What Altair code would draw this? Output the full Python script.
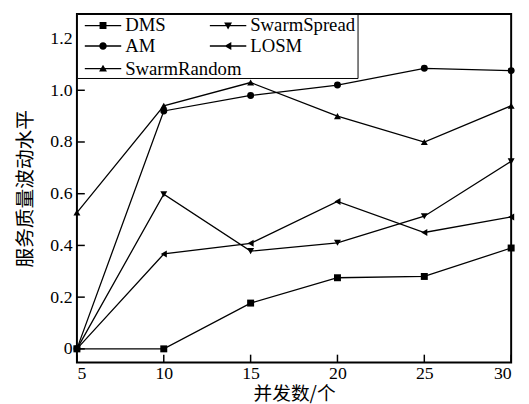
import altair as alt
import pandas as pd

# ---- data ----
x_vals = [5, 10, 15, 20, 25, 30]
dms = [0, 0, 0.177, 0.275, 0.28, 0.39]
am = [0, 0.92, 0.98, 1.02, 1.085, 1.076]
swarm_random = [0.527, 0.94, 1.03, 0.90, 0.80, 0.94]
swarm_spread = [0, 0.598, 0.378, 0.41, 0.513, 0.725]
losm = [0, 0.367, 0.408, 0.57, 0.45, 0.51]

series_order = ["DMS", "SwarmSpread", "AM", "LOSM", "SwarmRandom"]
legend_a_names = ["DMS", "SwarmSpread", "AM", "LOSM"]
legend_b_names = ["SwarmRandom"]
series_values = {
    "DMS": dms,
    "AM": am,
    "SwarmRandom": swarm_random,
    "SwarmSpread": swarm_spread,
    "LOSM": losm,
}
x_ticks = [5, 10, 15, 20, 25, 30]
y_ticks = [0, 0.2, 0.4, 0.6, 0.8, 1.0, 1.2]

# marker shapes (plot) and legend symbols (short line + marker, all filled, same winding)
plot_shapes = ["square", "triangle-down", "circle", "triangle-left", "triangle-up"]
LINE = "M-1.75,-0.33H16.75V0.33H-1.75Z"
legend_a_shapes = [
    LINE + "M5.75,-1.75H9.25V1.75H5.75Z",
    LINE + "M7.5,2L5.5,-1.5H9.5Z",
    LINE + "M5.6,0A1.9,1.9 0 1,1 9.4,0A1.9,1.9 0 1,1 5.6,0Z",
    LINE + "M5.65,0L9.15,-2V2Z",
]
legend_b_shapes = [LINE + "M7.5,-2L9.5,1.5H5.5Z"]

rows = []
for name in series_order:
    for xv, yv in zip(x_vals, series_values[name]):
        rows.append({"x": xv, "y": yv, "series": name})
df = pd.DataFrame(rows)

SERIF = "Liberation Serif, Times New Roman, serif"
CJK = "Noto Sans CJK SC"

x_scale = alt.Scale(domain=[5, 30], nice=False, zero=False)
y_scale = alt.Scale(domain=[-0.053, 1.295], nice=False, zero=False)

x_axis = alt.Axis(
    values=x_ticks, format="d", ticks=False, domain=False, grid=False,
    labelFont=SERIF, labelFontSize=18, labelColor="black", labelPadding=2,
    title="并发数/个", titleFont=CJK, titleFontSize=19, titleFontWeight="normal",
    titleColor="black", titleY=38, titleBaseline="alphabetic",
)
y_axis = alt.Axis(
    values=y_ticks, ticks=False, domain=False, grid=False,
    labelExpr="datum.value == 0 ? '0' : format(datum.value, '.1f')",
    labelFont=SERIF, labelFontSize=18, labelColor="black", labelPadding=5,
    title="服务质量波动水平", titleFont=CJK, titleFontSize=20, titleFontWeight="normal",
    titleColor="black", titlePadding=15,
)

legend_common = dict(
    symbolSize=16, symbolFillColor="black", symbolOpacity=1, symbolStrokeWidth=0,
    labelFont=SERIF, labelFontSize=19, labelColor="black", labelOffset=28,
    rowPadding=1, padding=2,
)

base = alt.Chart(df)

lines = base.mark_line(color="black", strokeWidth=1.3).encode(
    x=alt.X("x:Q", scale=x_scale, axis=x_axis),
    y=alt.Y("y:Q", scale=y_scale, axis=y_axis),
    detail="series:N",
)

points = base.mark_point(filled=True, color="black", size=50, opacity=1).encode(
    x=alt.X("x:Q", scale=x_scale),
    y=alt.Y("y:Q", scale=y_scale),
    shape=alt.Shape("series:N", scale=alt.Scale(domain=series_order, range=plot_shapes), legend=None),
)

legend_a_layer = base.mark_point(filled=True, color="black").encode(
    x=alt.X("x:Q", scale=x_scale),
    y=alt.Y("y:Q", scale=y_scale),
    shape=alt.Shape(
        "series:N",
        scale=alt.Scale(domain=legend_a_names, range=legend_a_shapes),
        legend=alt.Legend(
            title="\u00a0", titleOrient="bottom", titleFontSize=19, titlePadding=1,
            orient="top-left", offset=0, columns=2, direction="horizontal",
            columnPadding=38, strokeColor="black", fillColor="white",
            **legend_common,
        ),
    ),
).transform_filter("false")

legend_b_layer = base.mark_point(filled=True, color="black").encode(
    x=alt.X("x:Q", scale=x_scale),
    y=alt.Y("y:Q", scale=y_scale),
    shape=alt.Shape(
        "series:N",
        scale=alt.Scale(domain=legend_b_names, range=legend_b_shapes),
        legend=alt.Legend(
            title=None, orient="none", legendX=0, legendY=44,
            **legend_common,
        ),
    ),
).transform_filter("false")

ytick_df = pd.DataFrame({"y": y_ticks})
xtick_df = pd.DataFrame({"x": x_ticks})

y_tick_marks = alt.Chart(ytick_df).mark_rule(color="black", strokeWidth=1.5).encode(
    y=alt.Y("y:Q", scale=y_scale),
    x=alt.value(0), x2=alt.value(8),
)
x_tick_marks = alt.Chart(xtick_df).mark_rule(color="black", strokeWidth=1.5).encode(
    x=alt.X("x:Q", scale=x_scale),
    y=alt.value(354), y2=alt.value(346),
)

chart = alt.layer(
    lines, points, legend_a_layer, legend_b_layer, y_tick_marks, x_tick_marks
).resolve_scale(
    shape="independent"
).properties(
    width=441, height=354,
    padding={"left": 70, "top": 3, "right": 10, "bottom": 39},
    autosize=alt.AutoSizeParams(type="none"),
    background="white",
).configure_view(stroke="black", strokeWidth=2)

chart.save("out.html", embed_options={"renderer": "svg", "actions": False})
